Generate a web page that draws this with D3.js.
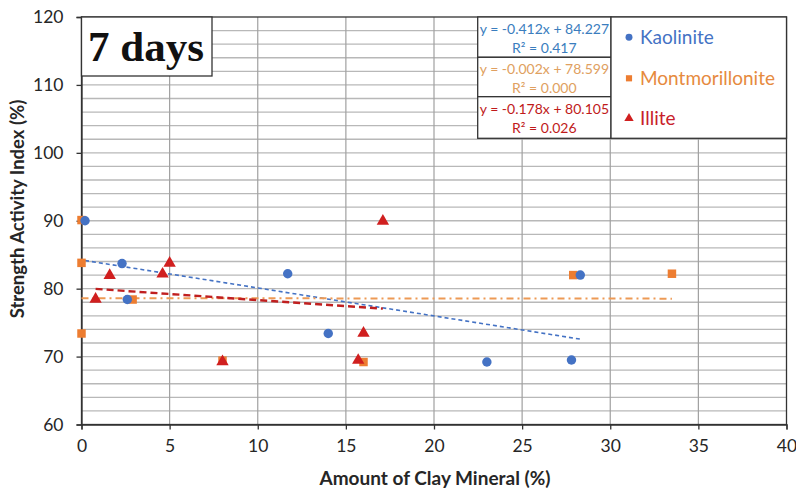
<!DOCTYPE html>
<html><head><meta charset="utf-8">
<script src="https://cdn.jsdelivr.net/npm/d3@7"></script>
<style>body{margin:0;background:#fff}svg{display:block}</style>
</head><body>
<svg id="c" width="796" height="491"></svg>
<script>
const seriesNames = ["Kaolinite", "Montmorillonite", "Illite"];
const kaoliniteX = [0.2, 2.3, 2.6, 11.7, 14.0, 23.0, 27.8, 28.3];
const kaoliniteY = [90.0, 83.7, 78.4, 82.2, 73.4, 69.2, 69.5, 82.0];
const montX = [0, 0, 0, 2.9, 8.0, 16.0, 27.9, 33.5];
const montY = [90.1, 83.8, 73.4, 78.4, 69.4, 69.2, 82.0, 82.2];
const illiteX = [0.8, 1.6, 4.6, 5.0, 8.0, 15.7, 16.0, 17.1];
const illiteY = [78.6, 82.1, 82.3, 83.9, 69.4, 69.6, 73.6, 90.1];
const slopes = [-0.412, -0.002, -0.178];
const intercepts = [84.227, 78.599, 80.105];
const eqLabels = ["y = -0.412x + 84.227", "y = -0.002x + 78.599", "y = -0.178x + 80.105"];
const r2Labels = ["R² = 0.417", "R² = 0.000", "R² = 0.026"];
const xTicks = [0, 5, 10, 15, 20, 25, 30, 35, 40];
const yTicks = [60, 70, 80, 90, 100, 110, 120];
const xTitle = "Amount of Clay Mineral (%)";
const yTitle = "Strength Activity Index (%)";
const panelLabel = "7 days";

const colors = ["#4472C4", "#ED7D31", "#D01F1F"];
const eqColors = ["#3A7DBE", "#E0A060", "#C01A1A"];
const legColors = ["#4472C4", "#E68A3E", "#C8202A"];
const symbols = [d3.symbolCircle, d3.symbolSquare, d3.symbolTriangle];
const symSizes = [70, 72, 66];

const svg = d3.select("#c");
const L = 81.5, T = 17, R = 786.5, B = 424.5;
const x = d3.scaleLinear().domain([0, 40]).range([L, R]);
const y = d3.scaleLinear().domain([60, 120]).range([B, T]);
const font = "Lato, 'Open Sans', sans-serif";

// gridlines
const g = svg.append("g");
g.selectAll("line.h").data(d3.range(62, 120, 2)).join("line")
  .attr("x1", L).attr("x2", R).attr("y1", d => y(d)).attr("y2", d => y(d))
  .attr("stroke", "#b8b8b8").attr("stroke-width", 1.3);
g.selectAll("line.v").data(xTicks.slice(1, -1)).join("line")
  .attr("x1", d => x(d)).attr("x2", d => x(d)).attr("y1", T).attr("y2", B)
  .attr("stroke", "#a0a0a0").attr("stroke-width", 1.2);

// border
svg.append("rect").attr("x", L).attr("y", T).attr("width", R - L).attr("height", B - T)
  .attr("fill", "none").attr("stroke", "#333").attr("stroke-width", 1.3);

// axes
const xAxis = svg.append("g").attr("transform", `translate(0,${B})`)
  .call(d3.axisBottom(x).tickValues(xTicks).tickSize(5).tickPadding(10));
const yAxis = svg.append("g").attr("transform", `translate(${L},0)`)
  .call(d3.axisLeft(y).tickValues(yTicks).tickSize(5).tickPadding(13));
[xAxis, yAxis].forEach(a => {
  a.select(".domain").attr("stroke", "#333").attr("stroke-width", 1.3);
  a.selectAll(".tick line").attr("stroke", "#333").attr("stroke-width", 1.3);
  a.selectAll("text").attr("font-family", font).attr("font-size", 17.5).attr("fill", "#262626");
});

// titles
svg.append("text").attr("x", (L + R) / 2 + 1).attr("y", 485).attr("text-anchor", "middle")
  .attr("font-family", font).attr("font-weight", "bold").attr("font-size", 19).attr("fill", "#262626")
  .text(xTitle);
svg.append("text").attr("transform", "translate(24,209) rotate(-90)").attr("text-anchor", "middle")
  .attr("font-family", font).attr("font-weight", "bold").attr("font-size", 18.5).attr("fill", "#262626")
  .text(yTitle);

// trendlines
const seriesX = [kaoliniteX, montX, illiteX];
const dashes = ["4,3", "7,4,2,4", "7,4"];
const widths = [1.6, 2, 2.4];
const trendColors = ["#4472C4", "#ED9A55", "#C01F1F"];
[0, 1, 2].forEach(i => {
  const x0 = d3.min(seriesX[i]), x1 = d3.max(seriesX[i]);
  svg.append("line")
    .attr("x1", x(x0)).attr("y1", y(intercepts[i] + slopes[i] * x0))
    .attr("x2", x(x1)).attr("y2", y(intercepts[i] + slopes[i] * x1))
    .attr("stroke", trendColors[i]).attr("stroke-width", widths[i])
    .attr("stroke-dasharray", dashes[i]);
});

// points
const seriesY = [kaoliniteY, montY, illiteY];
[1, 0, 2].forEach(i => {
  const pts = seriesX[i].map((v, k) => [v, seriesY[i][k]]);
  svg.append("g").selectAll("path").data(pts).join("path")
    .attr("d", d3.symbol().type(symbols[i]).size(symSizes[i]))
    .attr("transform", d => `translate(${x(d[0])},${y(d[1]) + (i === 2 ? 1 : 0)})`)
    .attr("fill", colors[i]);
});

// panel label
svg.append("rect").attr("x", L).attr("y", T).attr("width", 212 - L).attr("height", 76 - T)
  .attr("fill", "#fff").attr("stroke", "#333").attr("stroke-width", 1.3);
svg.append("text").attr("x", 88).attr("y", 61)
  .attr("font-family", "'Liberation Serif', 'Times New Roman', serif").attr("font-weight", "bold")
  .attr("font-size", 43).attr("fill", "#111").text(panelLabel);

// equation box
const eqL = 477.7, eqR = 611, rowB = [T, 57.3, 96.7, 138.3];
[0, 1, 2].forEach(i => {
  svg.append("rect").attr("x", eqL).attr("y", rowB[i]).attr("width", eqR - eqL).attr("height", rowB[i + 1] - rowB[i])
    .attr("fill", "#fff").attr("stroke", "#333").attr("stroke-width", 1.3);
  const cx = (eqL + eqR) / 2;
  svg.append("text").attr("x", cx).attr("y", rowB[i] + 17).attr("text-anchor", "middle")
    .attr("font-family", font).attr("font-size", 14).attr("fill", eqColors[i]).text(eqLabels[i]);
  svg.append("text").attr("x", cx).attr("y", rowB[i] + 36).attr("text-anchor", "middle")
    .attr("font-family", font).attr("font-size", 14).attr("fill", eqColors[i]).text(r2Labels[i]);
});

// legend
svg.append("rect").attr("x", eqR).attr("y", T).attr("width", R - eqR).attr("height", 138.3 - T)
  .attr("fill", "#fff").attr("stroke", "#333").attr("stroke-width", 1.3);
const legY = [37.3, 78.3, 118.3];
[0, 1, 2].forEach(i => {
  svg.append("path").attr("d", d3.symbol().type(symbols[i]).size(38)())
    .attr("transform", `translate(629,${legY[i]})`).attr("fill", colors[i]);
  svg.append("text").attr("x", 640).attr("y", legY[i] + 6.5)
    .attr("font-family", font).attr("font-size", 19).attr("fill", legColors[i]).text(seriesNames[i]);
});
</script>
</body></html>
